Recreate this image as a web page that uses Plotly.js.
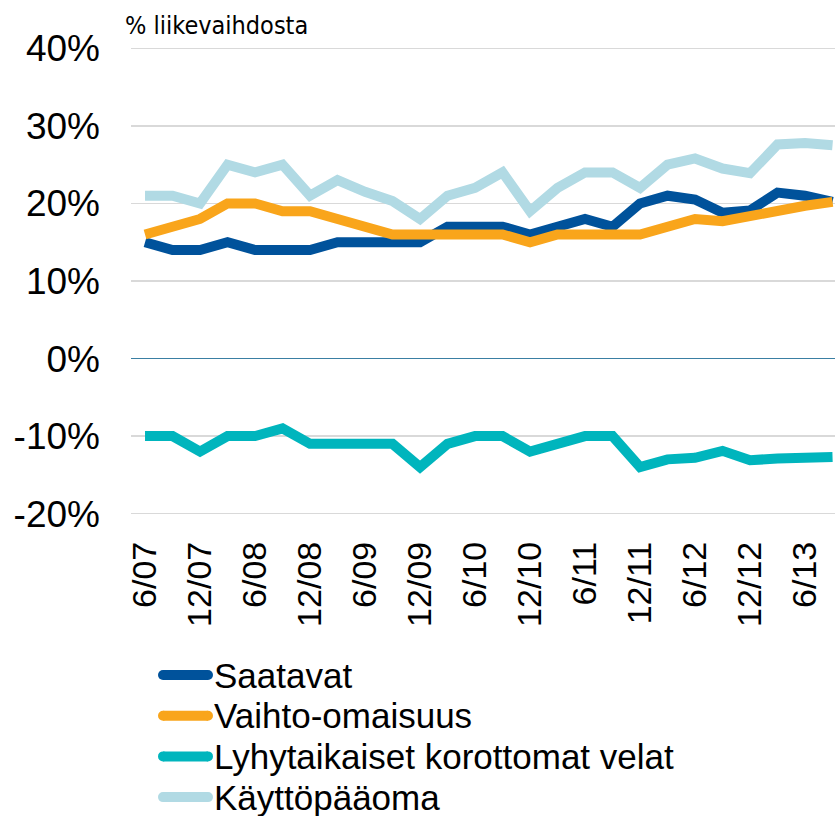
<!DOCTYPE html>
<html>
<head>
<meta charset="utf-8">
<script src="https://cdn.plot.ly/plotly-3.0.1.min.js"></script>
<style>html,body{margin:0;padding:0;background:#fff;}#chart{width:835px;height:816px;}</style>
</head>
<body>
<div id="chart"></div>
<script>
const quarters = ["6/07","9/07","12/07","3/08","6/08","9/08","12/08","3/09","6/09","9/09","12/09","3/10","6/10","9/10","12/10","3/11","6/11","9/11","12/11","3/12","6/12","9/12","12/12","3/13","6/13","9/13"];
const tickLabels = ["6/07","12/07","6/08","12/08","6/09","12/09","6/10","12/10","6/11","12/11","6/12","12/12","6/13"];
const saatavat = [15,14,14,15,14,14,14,15,15,15,15,17,17,17,16,17,18,17,20,21,20.5,18.8,19.1,21.4,21,20.2];
const vaihto = [16,17,18,20,20,19,19,18,17,16,16,16,16,16,15,16,16,16,16,17,18,17.7,18.4,19.3,19.7,20.2];
const lyhyt = [-10,-10,-12,-10,-10,-9,-11,-11,-11,-11,-14,-11,-10,-10,-12,-11,-10,-10,-14,-13,-12.8,-11.9,-13.1,-12.9,-12.8,-12.7];
const kaytto = [21,21,20,25,24,25,21,23,21.5,20.3,18,21,22,24,19,22,24,24,22,25,25.8,24.5,23.9,27.6,27.8,27.5];
const seriesNames = ["Saatavat","Vaihto-omaisuus","Lyhytaikaiset korottomat velat","Käyttöpääoma"];
const colors = ["#00529B","#F9A51B","#00B5BD","#B1DAE4"];
const yTicks = [-20,-10,0,10,20,30,40];
const yTickText = ["-20%","-10%","0%","10%","20%","30%","40%"];

const allSeries = [saatavat, vaihto, lyhyt, kaytto];
const traces = allSeries.map((vals, i) => ({
  type: "scatter",
  mode: "lines",
  x: quarters,
  y: vals,
  name: seriesNames[i],
  showlegend: false,
  line: {color: colors[i], width: 10}
}));

// Plot area geometry (pixels) used to place the legend in paper coordinates
const W = 835, H = 816;
const M = {l: 131, r: 0, t: 46, b: 300};
const plotW = W - M.l - M.r, plotH = H - M.t - M.b;
const px2x = px => (px - M.l) / plotW;
const px2y = py => (H - M.b - py) / plotH;

// Legend drawn as shapes + annotations
const legendTop = 675, legendStep = 40.7;
const shapes = [];
const annotations = [{
  text: "% liikevaihdosta",
  xref: "paper", yref: "paper",
  x: 0, y: 1, xanchor: "left", yanchor: "bottom",
  xshift: -8, yshift: 4,
  showarrow: false,
  font: {size: 25, family: "DejaVu Sans Condensed, sans-serif", color: "#000"}
}];
seriesNames.forEach((name, i) => {
  const yy = px2y(legendTop + i * legendStep);
  shapes.push({
    type: "line", xref: "paper", yref: "paper",
    x0: px2x(163), x1: px2x(208), y0: yy, y1: yy,
    line: {color: colors[i], width: 10}
  });
  shapes.push({
    type: "circle", xref: "paper", yref: "paper",
    x0: px2x(158), x1: px2x(168), y0: yy - 5 / plotH, y1: yy + 5 / plotH,
    fillcolor: colors[i], line: {width: 0}
  });
  shapes.push({
    type: "circle", xref: "paper", yref: "paper",
    x0: px2x(203), x1: px2x(213), y0: yy - 5 / plotH, y1: yy + 5 / plotH,
    fillcolor: colors[i], line: {width: 0}
  });
  annotations.push({
    text: name, xref: "paper", yref: "paper",
    x: px2x(213), y: yy, xanchor: "left", yanchor: "middle",
    showarrow: false, borderpad: 0,
    font: {size: 35, family: "Liberation Sans, Arial, sans-serif", color: "#000"}
  });
});

const layout = {
  width: W,
  height: H,
  margin: {l: M.l, r: M.r, t: M.t, b: M.b, autoexpand: false},
  paper_bgcolor: "#fff",
  plot_bgcolor: "#fff",
  font: {family: "Liberation Sans, Arial, sans-serif", color: "#000"},
  showlegend: false,
  xaxis: {
    type: "category",
    range: [-0.51, 25.09],
    tickmode: "array",
    tickvals: tickLabels,
    ticktext: tickLabels,
    tickangle: -90,
    tickfont: {size: 34},
    showgrid: false,
    zeroline: false,
    showline: false,
    ticks: "",
    ticklabelstandoff: 18,
    fixedrange: true
  },
  yaxis: {
    range: [-20.3, 40.3],
    tickmode: "array",
    tickvals: yTicks,
    ticktext: yTickText,
    tickfont: {size: 37},
    showgrid: true,
    gridcolor: "#D9D9D9",
    gridwidth: 1.5,
    zeroline: true,
    zerolinecolor: "#3A7FA3",
    zerolinewidth: 1.5,
    ticks: "",
    ticklabelstandoff: 30,
    fixedrange: true
  },
  shapes: shapes,
  annotations: annotations
};

Plotly.newPlot("chart", traces, layout, {displayModeBar: false, staticPlot: true});
</script>
</body>
</html>
